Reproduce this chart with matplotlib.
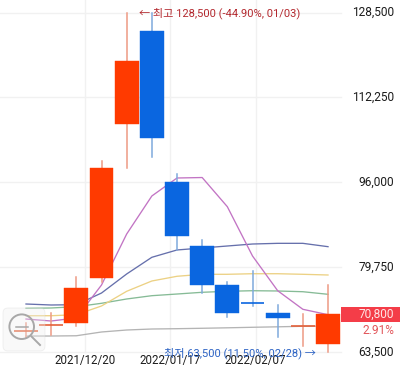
import matplotlib

matplotlib.use("Agg")
import matplotlib.pyplot as plt
from matplotlib.patches import Circle, FancyBboxPatch, Rectangle

plt.rcParams["font.family"] = ["Roboto", "Noto Sans CJK KR", "DejaVu Sans"]

opens = [67600, 68800, 69080, 77680, 107130, 125020, 96150, 83920, 76350, 73000, 70990, 68510, 65180]
closes = [67600, 68800, 75830, 98830, 119285, 104450, 85710, 76460, 71050, 72960, 70040, 68510, 70800]
highs = [69200, 71050, 77880, 100050, 128500, 128400, 97570, 85060, 76920, 79020, 72640, 70860, 76400]
lows = [66200, 66940, 68620, 76980, 98710, 100930, 83100, 74820, 70340, 72450, 66400, 64740, 63500]

ma5 = [69900, 69520, 70100, 76400, 86150, 93420, 96860, 96950, 91370, 81950, 75310, 71760, 70725]
ma20 = [72770, 72580, 72640, 74870, 78510, 81700, 83100, 83480, 83860, 84240, 84370, 84370, 83730]
ma10 = [70530, 70530, 70725, 72390, 75200, 77170, 78070, 78450, 78450, 78560, 78560, 78450, 78315]
ma60 = [71950, 72010, 72255, 72905, 73730, 74360, 74680, 75010, 75200, 75310, 75260, 75120, 74625]
ma120 = [66650, 66650, 66700, 67420, 67800, 67990, 68050, 68130, 68220, 68320, 68410, 68510, 68560]

price_ticks = [128500, 112250, 96000, 79750, 63500]
date_ticks = [2.36, 5.74, 9.12]
date_labels = ["2021/12/20", "2022/01/17", "2022/02/07"]

RED = "#ff3a00"
BLUE = "#0a66e0"
GRID = "#f1f1f1"

figure = plt.figure(figsize=(4.0, 3.67), dpi=100)
axis = figure.add_axes([0, 0, 1, 1])
axis.set_xlim(-1.033, 14.86)
axis.set_ylim(60727, 130890)
axis.axis("off")

# grid stops at the price scale
for tick in price_ticks:
    axis.plot([-1.033, 12.5], [tick, tick], color=GRID, linewidth=1, zorder=1)
for tick in date_ticks:
    axis.plot([tick, tick], [63500, 130890], color=GRID, linewidth=1, zorder=1)

days = range(len(opens))
for values, color in [
    (ma120, "#b4b4b4"),
    (ma60, "#86bb96"),
    (ma10, "#ecd184"),
    (ma20, "#6670ac"),
    (ma5, "#c274c4"),
]:
    axis.plot(days, values, color=color, linewidth=0.95, zorder=2)

for day in days:
    rising = closes[day] >= opens[day]
    color = RED if rising else BLUE
    wick = "#ee9a84" if rising else "#7ea9dd"
    axis.plot([day, day], [lows[day], highs[day]], color=wick, linewidth=1.1, zorder=3)
    if abs(opens[day] - closes[day]) < 100:
        doji = "#e4613a" if rising else BLUE
        axis.plot([day - 0.47, day + 0.47], [closes[day], closes[day]], color=doji, linewidth=1.2, solid_capstyle="butt", zorder=4)
    else:
        axis.bar(day, closes[day] - opens[day], bottom=opens[day], width=0.95, color=color, edgecolor=color, linewidth=0.3, zorder=4)

# overlay in screen pixels for labels and the zoom button
overlay = figure.add_axes([0, 0, 1, 1])
overlay.set_xlim(0, 400)
overlay.set_ylim(367, 0)
overlay.axis("off")
overlay.patch.set_alpha(0)

for tick in price_ticks:
    y = axis.transData.transform((0, tick))[1]
    overlay.text(394, 367 - y, f"{tick:,}", ha="right", va="center", fontsize=8.6, color="#1c1c1c")
for tick, label in zip(date_ticks, date_labels):
    x = axis.transData.transform((tick, 0))[0]
    overlay.text(x, 360.5, label, ha="center", va="center", fontsize=8.3, color="#1c1c1c")

overlay.text(139, 13, "← 최고 128,500 (-44.90%, 01/03)", ha="left", va="center", fontsize=8, color="#b3272d")
overlay.text(316, 353, "최저 63,500 (11.50%, 02/28) →", ha="right", va="center", fontsize=8, color="#2b62c4")

overlay.add_patch(Rectangle((341, 306.7), 59, 15, facecolor="#f43d48", edgecolor="none"))
overlay.text(394, 314.5, "70,800", ha="right", va="center", fontsize=8.6, color="#ffe6e6")
overlay.text(394, 330.7, "2.91%", ha="right", va="center", fontsize=8.6, color="#e2555a")

overlay.add_patch(FancyBboxPatch((3, 308), 42, 43, boxstyle="round,pad=0,rounding_size=5", facecolor="#eeeeee", edgecolor="#d4d4d4", linewidth=0.6, alpha=0.35, zorder=5))
overlay.add_patch(Circle((21.7, 326.7), 12.3, fill=False, edgecolor="#a8a8a8", linewidth=1.4, zorder=6))
overlay.plot([31.7, 40], [336.7, 345], color="#a8a8a8", linewidth=1.4, zorder=6)
overlay.plot([16, 28], [326.7, 326.7], color="#a8a8a8", linewidth=1.1, zorder=6)

figure.savefig("out.png", dpi=100)
plt.close(figure)
